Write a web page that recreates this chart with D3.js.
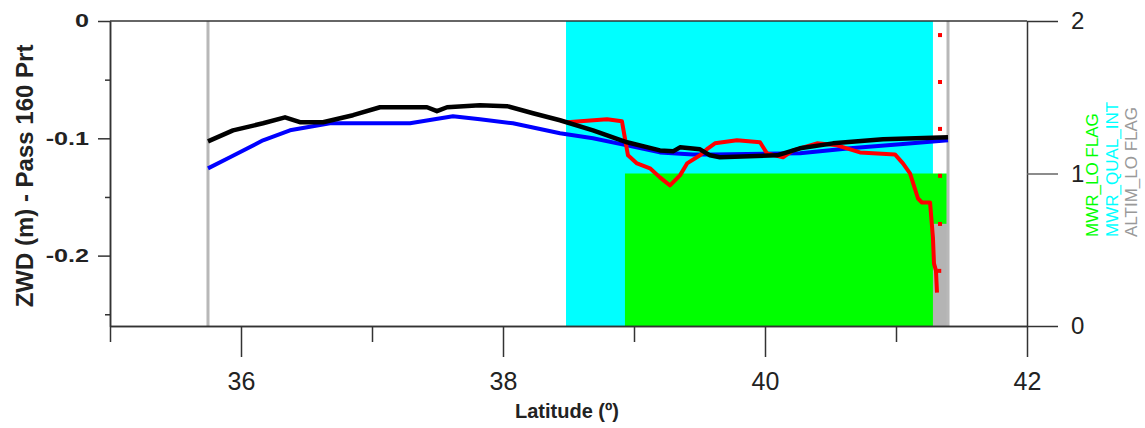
<!DOCTYPE html>
<html>
<head>
<meta charset="utf-8">
<script src="https://cdn.jsdelivr.net/npm/d3@7"></script>
<style>
  body { margin: 0; background: #fff; }
  text { font-family: "Liberation Sans", Arial, sans-serif; }
</style>
</head>
<body>
<div id="chart"></div>
<script>

// ZWD curves (latitude, metres)
var blackLat = [35.748, 35.939, 36.168, 36.336, 36.450, 36.626, 36.855, 37.061, 37.420, 37.496, 37.573, 37.824, 38.031, 38.229, 38.435, 38.687, 38.947, 39.198, 39.298, 39.351, 39.504, 39.580, 39.656, 40.092, 40.267, 40.519, 40.901, 41.397];
var blackZwd = [-0.1026, -0.0932, -0.0872, -0.0821, -0.0863, -0.0863, -0.0803, -0.0735, -0.0735, -0.0769, -0.0735, -0.0718, -0.0726, -0.0786, -0.0846, -0.0932, -0.1034, -0.1103, -0.1111, -0.1077, -0.1094, -0.1145, -0.1162, -0.1145, -0.1085, -0.1043, -0.1009, -0.0991];

var blueLat = [35.748, 35.916, 36.168, 36.374, 36.679, 37.290, 37.618, 37.824, 38.076, 38.435, 38.687, 38.947, 39.198, 39.450, 39.603, 40.267, 40.649, 41.031, 41.397];
var blueZwd = [-0.1256, -0.1162, -0.1017, -0.0932, -0.0872, -0.0872, -0.0812, -0.0838, -0.0872, -0.0957, -0.1000, -0.1060, -0.1120, -0.1137, -0.1137, -0.1128, -0.1085, -0.1051, -0.1017];

var redLat = [38.489, 38.794, 38.908, 38.931, 38.954, 39.023, 39.122, 39.198, 39.275, 39.351, 39.405, 39.504, 39.565, 39.618, 39.786, 39.962, 40.015, 40.137, 40.214, 40.397, 40.550, 40.725, 40.992, 41.053, 41.107, 41.168, 41.198, 41.260, 41.282, 41.290, 41.305, 41.313];
var redZwd = [-0.0863, -0.0838, -0.0855, -0.1000, -0.1145, -0.1214, -0.1256, -0.1333, -0.1402, -0.1316, -0.1214, -0.1145, -0.1085, -0.1043, -0.1017, -0.1034, -0.1128, -0.1162, -0.1103, -0.1043, -0.1060, -0.1120, -0.1137, -0.1214, -0.1299, -0.1513, -0.1547, -0.1547, -0.1846, -0.2068, -0.2128, -0.2316];

var dotLat = [41.336, 41.336, 41.336, 41.336, 41.336, 41.33];
var dotZwd = [-0.012, -0.052, -0.092, -0.132, -0.173, -0.213];

// flags (right axis)
var flagNames = ["MWR_QUAL_INT", "MWR_LO FLAG", "ALTIM_LO FLAG"];
var flagStart = [38.481, 38.931, 41.282];
var flagEnd = [41.282, 41.389, 41.405];
var flagValue = [2, 1, 0.67];
var flagColors = ["#00ffff", "#00ff00", "#b4b4b4"];
var legendOrder = [1, 0, 2];

var edgeLat = [35.748, 41.397];

var xMajor = [36, 38, 40, 42], xMinor = [35, 37, 39, 41];
var yMajor = [0, -0.1, -0.2], yMinor = [-0.05, -0.15, -0.25];
var flagTicks = [0, 1, 2];

var width = 1145, height = 428;
var svg = d3.select("#chart").append("svg")
    .attr("width", width)
    .attr("height", height);

var x = d3.scaleLinear().domain([35, 42]).range([110, 1027]);
var y = d3.scaleLinear().domain([-0.26, 0]).range([326, 21]);
var yFlag = d3.scaleLinear().domain([0, 2]).range([326, 21]);

// flag bars
svg.selectAll("rect.flag")
    .data(flagNames)
  .enter().append("rect")
    .attr("class", "flag")
    .attr("x", function(d, i) { return x(flagStart[i]); })
    .attr("width", function(d, i) { return x(flagEnd[i]) - x(flagStart[i]); })
    .attr("y", function(d, i) { return yFlag(flagValue[i]); })
    .attr("height", function(d, i) { return yFlag(0) - yFlag(flagValue[i]); })
    .style("fill", function(d, i) { return flagColors[i]; });

svg.selectAll("line.edge")
    .data(edgeLat)
  .enter().append("line")
    .attr("x1", function(d) { return x(d); })
    .attr("x2", function(d) { return x(d); })
    .attr("y1", y(0))
    .attr("y2", y(-0.26))
    .style("stroke", "#b8b8b8")
    .style("stroke-width", 3);

function series(lat, val) {
  return lat.map(function(d, i) { return [d, val[i]]; });
}
var line = d3.line()
    .x(function(d) { return x(d[0]); })
    .y(function(d) { return y(d[1]); });

[[blueLat, blueZwd, "#0000ff", 4], [redLat, redZwd, "#ff0000", 4], [blackLat, blackZwd, "#000000", 4.5]]
  .forEach(function(s) {
    svg.append("path")
        .datum(series(s[0], s[1]))
        .attr("d", line)
        .style("fill", "none")
        .style("stroke", s[2])
        .style("stroke-width", s[3])
        .style("stroke-linejoin", "round");
  });

svg.selectAll("rect.dot")
    .data(series(dotLat, dotZwd))
  .enter().append("rect")
    .attr("x", function(d) { return x(d[0]) - 2; })
    .attr("y", function(d) { return y(d[1]) - 2; })
    .attr("width", 4)
    .attr("height", 4)
    .style("fill", "#ff0000");

// frame + axes
svg.append("line")
    .attr("x1", 110).attr("x2", 1027)
    .attr("y1", 21).attr("y2", 21)
    .style("stroke", "#333").style("stroke-width", 1.5);

function styleAxis(g) {
  g.selectAll("path, line").style("stroke", "#333").style("stroke-width", 1.5);
  g.selectAll("text").style("fill", "#222");
}

var gLeftMinor = svg.append("g").attr("transform", "translate(110,0)")
    .call(d3.axisLeft(y).tickValues(yMinor).tickSize(5).tickSizeOuter(0).tickFormat(""));
var gLeft = svg.append("g").attr("transform", "translate(110,0)")
    .call(d3.axisLeft(y).tickValues(yMajor).tickSize(12).tickSizeOuter(0)
      .tickFormat(function(d) { return String(d); }));
gLeft.selectAll("text")
    .style("font-size", "18px")
    .style("font-weight", "bold")
    .attr("transform", "scale(1.4,1)")
    .attr("x", -21 / 1.4);
styleAxis(gLeftMinor); styleAxis(gLeft);

var gBottomMinor = svg.append("g").attr("transform", "translate(0,326)")
    .call(d3.axisBottom(x).tickValues(xMinor).tickSize(16).tickSizeOuter(0).tickFormat(""));
var gBottom = svg.append("g").attr("transform", "translate(0,326)")
    .call(d3.axisBottom(x).tickValues(xMajor).tickSize(31).tickSizeOuter(0).tickPadding(15)
      .tickFormat(d3.format("d")));
gBottom.selectAll("text").style("font-size", "25px");
styleAxis(gBottomMinor); styleAxis(gBottom);

var gRight = svg.append("g").attr("transform", "translate(1027,0)")
    .call(d3.axisRight(yFlag).tickValues(flagTicks).tickSize(31).tickSizeOuter(0).tickPadding(13)
      .tickFormat(d3.format("d")));
gRight.selectAll("text").style("font-size", "24px");
styleAxis(gRight);
gRight.selectAll(".tick line").filter(function(d) { return d === 1; }).style("stroke", "#666");

// titles
svg.append("text")
    .attr("transform", "translate(33,176) rotate(-90)")
    .attr("text-anchor", "middle")
    .style("font-size", "24px")
    .style("font-weight", "bold")
    .style("fill", "#222")
    .text("ZWD (m) - Pass 160 Prt");

svg.append("text")
    .attr("x", 567).attr("y", 418)
    .attr("text-anchor", "middle")
    .style("font-size", "20px")
    .style("font-weight", "bold")
    .style("fill", "#222")
    .text("Latitude (\u00ba)");

// flag legend
svg.selectAll("text.legend")
    .data(legendOrder)
  .enter().append("text")
    .attr("class", "legend")
    .attr("transform", function(d, i) { return "translate(" + (1098 + i * 19.5) + ",237) rotate(-90)"; })
    .style("font-size", "17px")
    .style("fill", function(d) { return flagColors[d] === "#b4b4b4" ? "#999" : flagColors[d]; })
    .text(function(d) { return flagNames[d]; });

</script>
</body>
</html>
